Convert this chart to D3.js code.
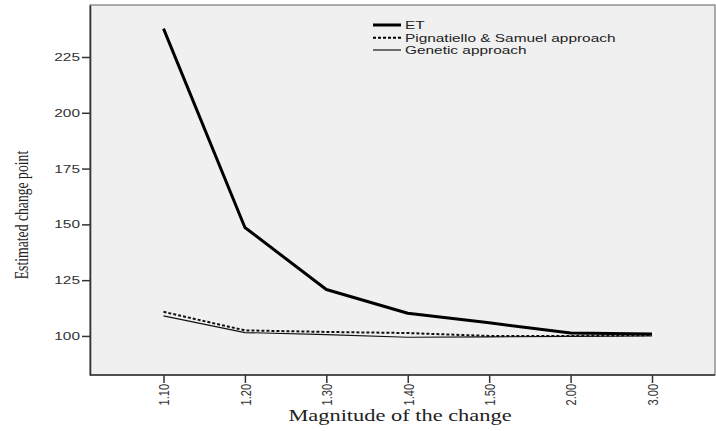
<!DOCTYPE html>
<html><head><meta charset="utf-8">
<script src="https://cdn.jsdelivr.net/npm/d3@7"></script>
<style>body{margin:0;background:#fff}svg{display:block}</style>
</head><body>
<svg id="c" width="716" height="431"></svg>
<script>
const categories = ["1.10","1.20","1.30","1.40","1.50","2.00","3.00"];
const seriesNames = ["ET","Pignatiello & Samuel approach","Genetic approach"];
const etValues = [237.7,148.6,120.8,110.2,105.9,101.3,100.9];
const psValues = [110.8,102.5,101.8,101.3,100.0,100.0,100.4];
const geneticValues = [109.0,101.5,100.6,99.4,99.6,99.8,100.0];
const yTicks = [100,125,150,175,200,225];

const SX = 1.4; // horizontal stretch of the reference text
const sans = "Arial, 'Liberation Sans', sans-serif";
const serif = "'Times New Roman','Liberation Serif',serif";
const svg = d3.select("#c");
const plot = {left:90, right:715, top:5, bottom:375};
const x = d3.scalePoint().domain(categories).range([163.5, 652]);
const y = d3.scaleLinear().domain([82.5, 248.3]).range([plot.bottom, plot.top]);

svg.append("rect").attr("x",plot.left).attr("y",plot.top)
  .attr("width",plot.right-plot.left).attr("height",plot.bottom-plot.top)
  .attr("fill","#f0f0f0").attr("stroke","#777").attr("stroke-width",1.2);

const yAxis = svg.append("g").attr("transform",`translate(${plot.left},0)`)
  .call(d3.axisLeft(y).tickValues(yTicks).tickSize(8).tickSizeOuter(0));
yAxis.select(".domain").attr("stroke","#333").attr("stroke-width",1.6);
yAxis.selectAll(".tick line").attr("stroke","#333").attr("stroke-width",1.5);
yAxis.selectAll("text").attr("font-family",sans)
  .attr("font-size",11).attr("fill","#333").attr("x",-10/SX)
  .attr("transform",`scale(${SX},1)`);

const xAxis = svg.append("g").attr("transform",`translate(0,${plot.bottom})`)
  .call(d3.axisBottom(x).tickSize(8).tickSizeOuter(0));
xAxis.select(".domain").remove();
svg.append("line").attr("x1",plot.left).attr("x2",plot.right)
  .attr("y1",plot.bottom).attr("y2",plot.bottom).attr("stroke","#333").attr("stroke-width",1.6);
xAxis.selectAll(".tick line").attr("stroke","#333").attr("stroke-width",1.5);
xAxis.selectAll("text").attr("font-family",sans)
  .attr("font-size",11).attr("fill","#333")
  .attr("transform",`scale(${SX},1) rotate(-90)`).attr("text-anchor","end")
  .attr("x",-9).attr("y",0).attr("dy","0.35em");

const line = d3.line().x((d,i)=>x(categories[i])).y(d=>y(d));
svg.append("path").datum(geneticValues).attr("d",line).attr("fill","none")
  .attr("stroke","#111").attr("stroke-width",1.1);
svg.append("path").datum(psValues).attr("d",line).attr("fill","none")
  .attr("stroke","#111").attr("stroke-width",2).attr("stroke-dasharray","3,2");
svg.append("path").datum(etValues).attr("d",line).attr("fill","none")
  .attr("stroke","#000").attr("stroke-width",3).attr("stroke-linejoin","round");

const legendRows = [
  {name:seriesNames[0], w:3, dash:null, y:25},
  {name:seriesNames[1], w:2, dash:"3,2", y:37.7},
  {name:seriesNames[2], w:1.1, dash:null, y:50}
];
const lg = svg.append("g");
legendRows.forEach(r=>{
  lg.append("line").attr("x1",373).attr("x2",401).attr("y1",r.y).attr("y2",r.y)
    .attr("stroke","#000").attr("stroke-width",r.w).attr("stroke-dasharray",r.dash);
  lg.append("text").attr("transform",`translate(405,${r.y}) scale(${SX},1)`).attr("dy","0.35em")
    .attr("font-family",sans).attr("font-size",11)
    .attr("fill","#222").text(r.name);
});

svg.append("text").attr("transform",`translate(21,215) scale(${SX},1) rotate(-90)`)
  .attr("text-anchor","middle").attr("dy","0.35em")
  .attr("font-family",serif).attr("font-size",13.7)
  .attr("fill","#222").text("Estimated change point");
svg.append("text").attr("transform",`translate(400,421) scale(${SX},1)`).attr("text-anchor","middle")
  .attr("font-family",serif).attr("font-size",16)
  .attr("fill","#222").text("Magnitude of the change");
</script>
</body></html>
